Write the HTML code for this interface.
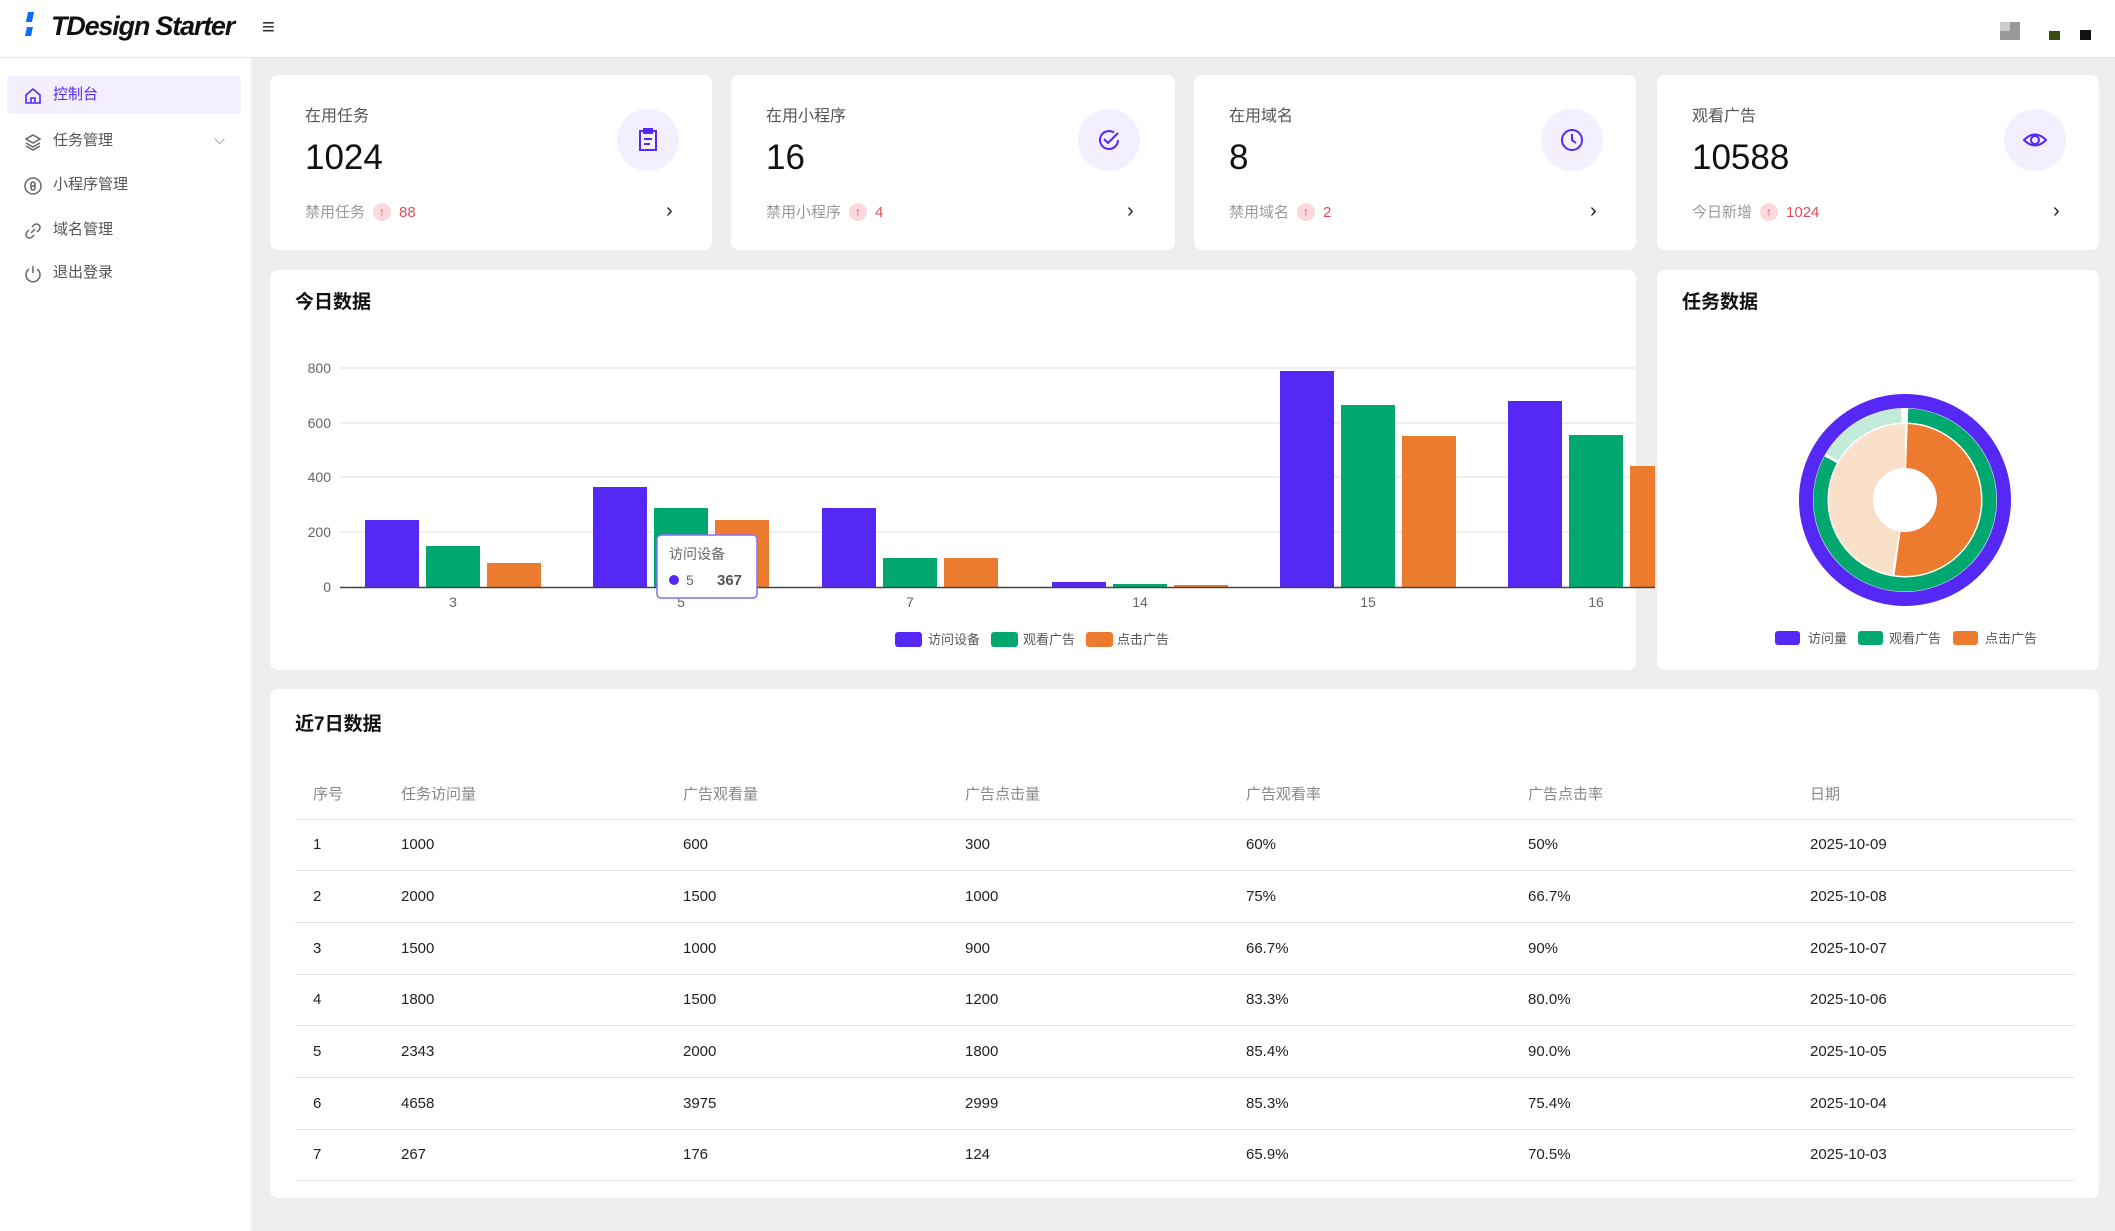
<!DOCTYPE html>
<html><head><meta charset="utf-8"><style>
*{margin:0;padding:0;box-sizing:border-box}
body{width:2115px;height:1231px;background:#eeeeee;font-family:"Liberation Sans","Noto Sans CJK SC",sans-serif;position:relative;overflow:hidden;color:#222}
.a{position:absolute}
.hdr{left:0;top:0;width:2115px;height:58px;background:#fff;border-bottom:1px solid #e6e6e6}
.side{left:0;top:58px;width:251px;height:1173px;background:#fff}
.mi{position:absolute;left:7px;width:234px;height:38px;font-size:15px;color:#555;line-height:38px;padding-left:46px}
.mi svg{position:absolute;left:16px;top:10px}
.card{position:absolute;background:#fff;border-radius:8px}
.lbl{position:absolute;left:35px;top:27px;font-size:16px;color:#555}
.val{position:absolute;left:35px;top:63px;font-size:35px;color:#111}
.ic{position:absolute;left:347px;top:34px;width:62px;height:62px;border-radius:50%;background:#f3efff}
.ic svg{position:absolute;left:18px;top:18px}
.bot{position:absolute;left:35px;top:127px;font-size:15px;color:#999;line-height:22px}
.up{display:inline-block;width:18px;height:18px;border-radius:50%;background:#fcd9dc;color:#e34d59;font-size:12px;text-align:center;line-height:18px;margin:0 8px 0 8px;vertical-align:1px}
.num{color:#e34d59}
.chev{position:absolute;left:396px;top:125px;font-size:20px;color:#222}
.ttl{position:absolute;font-size:19px;font-weight:bold;color:#111}
table{position:absolute;left:295px;top:769px;width:1779px;border-collapse:collapse;font-size:15px}
th{font-weight:normal;color:#888;text-align:left;height:50px;border-bottom:1px solid #e3e3e3}
td{height:51.7px;border-bottom:1px solid #e3e3e3;color:#222}
th:first-child,td:first-child{padding-left:18px}
</style></head><body>
<div class="a hdr"></div>
<div class="a" style="left:27px;top:12px;width:6px;height:10px;background:#0a6cff;transform:skewX(-12deg)"></div>
<div class="a" style="left:26px;top:27px;width:6px;height:9px;background:#0a6cff;transform:skewX(-12deg)"></div>
<div class="a" style="left:51px;top:11px;font-size:27px;font-weight:bold;font-style:italic;color:#111;letter-spacing:-1.2px">TDesign Starter</div>
<div class="a" style="left:262px;top:14px;font-size:22px;color:#333">≡</div>
<div class="a" style="left:2000px;top:22px;width:20px;height:18px;background:#999"></div>
<div class="a" style="left:2000px;top:22px;width:10px;height:9px;background:#ccc"></div>
<div class="a" style="left:2049px;top:31px;width:11px;height:9px;background:#3a4a10"></div>
<div class="a" style="left:2080px;top:30px;width:11px;height:10px;background:#111"></div>

<div class="a side"></div>
<div class="mi" style="top:76px;background:#f3efff;color:#5528f5;border-radius:4px"><svg width="20" height="20" viewBox="0 0 20 20" fill="none" stroke="#5528f5" stroke-width="1.6"><path d="M3 9 L10 3 L17 9 V17 H3 Z M8 17 V12 H12 V17"/></svg>控制台</div>
<div class="mi" style="top:122px"><svg width="20" height="20" viewBox="0 0 20 20" fill="none" stroke="#666" stroke-width="1.5"><path d="M10 3 L17 7 L10 11 L3 7 Z M3 11 L10 15 L17 11 M3 14 L10 18 L17 14"/></svg>任务管理<span style="position:absolute;right:16px;top:-2px;color:#777;font-size:14px">⌵</span></div>
<div class="mi" style="top:166px"><svg width="20" height="20" viewBox="0 0 20 20" fill="none" stroke="#666" stroke-width="1.5"><circle cx="10" cy="10" r="8"/><path d="M8 13 V8 a2 2 0 1 1 2 2 M12 7 v5 a2 2 0 1 1 -2 -2"/></svg>小程序管理</div>
<div class="mi" style="top:211px"><svg width="20" height="20" viewBox="0 0 20 20" fill="none" stroke="#666" stroke-width="1.5"><path d="M8 12 L12 8 M9 6 L11 4 a3 3 0 0 1 5 5 L14 11 M11 14 L9 16 a3 3 0 0 1 -5 -5 L6 9"/></svg>域名管理</div>
<div class="mi" style="top:254px"><svg width="20" height="20" viewBox="0 0 20 20" fill="none" stroke="#666" stroke-width="1.5"><path d="M10 2 V9 M6 5 a7 7 0 1 0 8 0"/></svg>退出登录</div>

<div class="card" style="left:270px;top:75px;width:442px;height:175px"><div class="lbl">在用任务</div><div class="val">1024</div><div class="ic"><svg width="26" height="26" viewBox="0 0 26 26" fill="none" stroke="#5528f5" stroke-width="2"><rect x="5" y="4" width="16" height="19"/><rect x="9" y="2" width="8" height="4"/><path d="M9 12 H17 M9 17 H15"/></svg></div><div class="bot">禁用任务<span class="up">↑</span><span class="num">88</span></div><div class="chev">›</div></div>
<div class="card" style="left:731px;top:75px;width:444px;height:175px"><div class="lbl">在用小程序</div><div class="val">16</div><div class="ic"><svg width="26" height="26" viewBox="0 0 26 26" fill="none" stroke="#5528f5" stroke-width="2"><path d="M22 13 a9 9 0 1 1 -4 -7.5"/><path d="M8 12 L12 16 L22 6"/></svg></div><div class="bot">禁用小程序<span class="up">↑</span><span class="num">4</span></div><div class="chev">›</div></div>
<div class="card" style="left:1194px;top:75px;width:442px;height:175px"><div class="lbl">在用域名</div><div class="val">8</div><div class="ic"><svg width="26" height="26" viewBox="0 0 26 26" fill="none" stroke="#5528f5" stroke-width="2"><circle cx="13" cy="13" r="10"/><path d="M13 7 V13 L17 16"/></svg></div><div class="bot">禁用域名<span class="up">↑</span><span class="num">2</span></div><div class="chev">›</div></div>
<div class="card" style="left:1657px;top:75px;width:442px;height:175px"><div class="lbl">观看广告</div><div class="val">10588</div><div class="ic"><svg width="26" height="26" viewBox="0 0 26 26" fill="none" stroke="#5528f5" stroke-width="2"><path d="M2 13 Q13 2 24 13 Q13 24 2 13 Z"/><circle cx="13" cy="13" r="4"/></svg></div><div class="bot">今日新增<span class="up">↑</span><span class="num">1024</span></div><div class="chev">›</div></div>

<div class="card" style="left:270px;top:270px;width:1366px;height:400px"></div>
<div class="ttl" style="left:295px;top:287px">今日数据</div>
<div class="card" style="left:1657px;top:270px;width:442px;height:400px"></div>
<div class="ttl" style="left:1682px;top:287px">任务数据</div>

<svg class="a" style="left:0;top:0" width="2115" height="700" font-family="Liberation Sans,Noto Sans CJK SC,sans-serif">
<g stroke="#e3e3ef" stroke-width="1.3"><line x1="340" x2="1636" y1="368" y2="368"/><line x1="340" x2="1636" y1="423" y2="423"/><line x1="340" x2="1636" y1="477" y2="477"/><line x1="340" x2="1636" y1="532" y2="532"/></g>
<g font-size="14" fill="#666" text-anchor="end"><text x="331" y="373">800</text><text x="331" y="428">600</text><text x="331" y="482">400</text><text x="331" y="537">200</text><text x="331" y="592">0</text></g>
<g>
<rect x="365" y="520" width="54" height="67" fill="#5528f5"/><rect x="426" y="546" width="54" height="41" fill="#00a870"/><rect x="487" y="563" width="54" height="24" fill="#ed7b2f"/>
<rect x="593" y="487" width="54" height="100" fill="#5528f5"/><rect x="654" y="508" width="54" height="79" fill="#00a870"/><rect x="715" y="520" width="54" height="67" fill="#ed7b2f"/>
<rect x="822" y="508" width="54" height="79" fill="#5528f5"/><rect x="883" y="558" width="54" height="29" fill="#00a870"/><rect x="944" y="558" width="54" height="29" fill="#ed7b2f"/>
<rect x="1052" y="582" width="54" height="5" fill="#5528f5"/><rect x="1113" y="584" width="54" height="3" fill="#00a870"/><rect x="1174" y="585" width="54" height="2" fill="#ed7b2f"/>
<rect x="1280" y="371" width="54" height="216" fill="#5528f5"/><rect x="1341" y="405" width="54" height="182" fill="#00a870"/><rect x="1402" y="436" width="54" height="151" fill="#ed7b2f"/>
<rect x="1508" y="401" width="54" height="186" fill="#5528f5"/><rect x="1569" y="435" width="54" height="152" fill="#00a870"/><rect x="1630" y="466" width="25" height="121" fill="#ed7b2f"/>
</g>
<line x1="340" x2="1655" y1="587.5" y2="587.5" stroke="#444" stroke-width="1.5"/>
<g font-size="14" fill="#666" text-anchor="middle"><text x="453" y="607">3</text><text x="681" y="607">5</text><text x="910" y="607">7</text><text x="1140" y="607">14</text><text x="1368" y="607">15</text><text x="1596" y="607">16</text></g>
<g font-size="13" fill="#555"><rect x="895" y="632" width="27" height="15" rx="3" fill="#5528f5"/><text x="928" y="644">访问设备</text><rect x="991" y="632" width="27" height="15" rx="3" fill="#00a870"/><text x="1023" y="644">观看广告</text><rect x="1086" y="632" width="27" height="15" rx="3" fill="#ed7b2f"/><text x="1117" y="644">点击广告</text></g>
<rect x="657" y="535" width="100" height="63" rx="4" fill="#fff" stroke="#8a6cf7" stroke-width="1.5"/>
<text x="669" y="559" font-size="14" fill="#666">访问设备</text><circle cx="674" cy="580" r="5" fill="#5528f5"/><text x="686" y="585" font-size="14" fill="#666">5</text><text x="717" y="585" font-size="15" font-weight="bold" fill="#555">367</text>
<g transform="translate(1905,500)">
<circle r="99" fill="none" stroke="#5528f5" stroke-width="14"/>
<g transform="rotate(-90)">
<circle r="84.5" fill="none" stroke="#00a870" stroke-width="14" stroke-dasharray="437 91" stroke-dashoffset="-3"/>
<circle r="84.5" fill="none" stroke="#c3ebd9" stroke-width="14" stroke-dasharray="84 444" stroke-dashoffset="-443"/>
<circle r="54" fill="none" stroke="#ed7b2f" stroke-width="44" stroke-dasharray="175 165" stroke-dashoffset="-2"/>
<circle r="54" fill="none" stroke="#fae0c8" stroke-width="44" stroke-dasharray="160 180" stroke-dashoffset="-179"/>
</g>
</g>
<g font-size="13" fill="#555"><rect x="1775" y="631" width="25" height="14" rx="3" fill="#5528f5"/><text x="1808" y="643">访问量</text><rect x="1858" y="631" width="25" height="14" rx="3" fill="#00a870"/><text x="1889" y="643">观看广告</text><rect x="1953" y="631" width="25" height="14" rx="3" fill="#ed7b2f"/><text x="1985" y="643">点击广告</text></g>
</svg>

<div class="card" style="left:270px;top:689px;width:1829px;height:509px"></div>
<div class="ttl" style="left:295px;top:709px">近7日数据</div>
<table>
<tr><th style="width:106px">序号</th><th style="width:282px">任务访问量</th><th style="width:282px">广告观看量</th><th style="width:281px">广告点击量</th><th style="width:282px">广告观看率</th><th style="width:282px">广告点击率</th><th>日期</th></tr>
<tr><td>1</td><td>1000</td><td>600</td><td>300</td><td>60%</td><td>50%</td><td>2025-10-09</td></tr>
<tr><td>2</td><td>2000</td><td>1500</td><td>1000</td><td>75%</td><td>66.7%</td><td>2025-10-08</td></tr>
<tr><td>3</td><td>1500</td><td>1000</td><td>900</td><td>66.7%</td><td>90%</td><td>2025-10-07</td></tr>
<tr><td>4</td><td>1800</td><td>1500</td><td>1200</td><td>83.3%</td><td>80.0%</td><td>2025-10-06</td></tr>
<tr><td>5</td><td>2343</td><td>2000</td><td>1800</td><td>85.4%</td><td>90.0%</td><td>2025-10-05</td></tr>
<tr><td>6</td><td>4658</td><td>3975</td><td>2999</td><td>85.3%</td><td>75.4%</td><td>2025-10-04</td></tr>
<tr><td>7</td><td>267</td><td>176</td><td>124</td><td>65.9%</td><td>70.5%</td><td>2025-10-03</td></tr>
</table>
</body></html>
